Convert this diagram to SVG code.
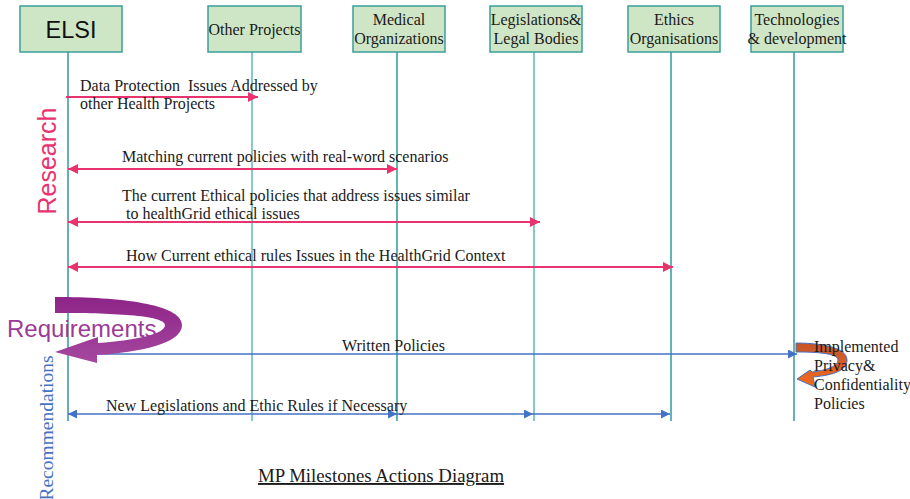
<svg xmlns="http://www.w3.org/2000/svg" width="910" height="499" viewBox="0 0 910 499">
  <style>
    .box { fill: #cfe6c6; stroke: #3a9e9a; stroke-width: 1.5; }
    .nodelabel { font-family: "Liberation Serif", "Times New Roman", serif; font-size: 16px; fill: #1a1a1a; text-anchor: middle; }
    .life { stroke-width: 1.5; fill: none; }
    .life-dark { stroke: #2e9a98; }
    .life-light { stroke: #86c9c9; stroke-width: 2; }
    .msg { font-family: "Liberation Serif", "Times New Roman", serif; font-size: 16px; fill: #1a1a1a; }
    .pink { stroke: #e8336e; stroke-width: 2; fill: none; }
    .blue { stroke: #4472c4; stroke-width: 1.5; fill: none; }
  </style>
  <defs>
    <marker id="headPink" viewBox="0 0 10 10" refX="10" refY="5" markerWidth="11" markerHeight="10" markerUnits="userSpaceOnUse" orient="auto-start-reverse">
      <path d="M0,0 L10,5 L0,10 z" fill="#e8336e"/>
    </marker>
    <marker id="headBlue" viewBox="0 0 10 10" refX="10" refY="5" markerWidth="10" markerHeight="9" markerUnits="userSpaceOnUse" orient="auto-start-reverse">
      <path d="M0,0 L10,5 L0,10 z" fill="#4472c4"/>
    </marker>
    <linearGradient id="purpleRibbon" x1="0" y1="0" x2="0" y2="1">
      <stop offset="0" stop-color="#8e2488"/>
      <stop offset="1" stop-color="#a5489f"/>
    </linearGradient>
    <linearGradient id="orangeRibbon" x1="0" y1="0" x2="0" y2="1">
      <stop offset="0" stop-color="#c4552a"/>
      <stop offset="0.45" stop-color="#d85e24"/>
      <stop offset="1" stop-color="#f26b1d"/>
    </linearGradient>
  </defs>

  <!-- lifelines -->
  <g id="lifelines">
    <line class="life life-dark" x1="68" y1="52" x2="68" y2="421" stroke="#4aa9a7"/>
    <line class="life life-light" x1="252" y1="52" x2="252" y2="421"/>
    <line class="life life-dark" x1="397" y1="52" x2="397" y2="421"/>
    <line class="life life-light" x1="534" y1="52" x2="534" y2="421"/>
    <line class="life life-dark" x1="671" y1="52" x2="671" y2="421"/>
    <line class="life life-dark" x1="794" y1="52" x2="794" y2="421"/>
  </g>

  <!-- participants -->
  <g id="node-elsi">
    <rect class="box" x="20" y="6" width="102" height="46"/>
    <text x="71" y="38" font-family="Liberation Sans, Arial, sans-serif" font-size="23.5" fill="#111" text-anchor="middle">ELSI</text>
  </g>
  <g id="node-other-projects">
    <rect class="box" x="208" y="6" width="93" height="46"/>
    <text class="nodelabel" x="254.5" y="35">Other Projects</text>
  </g>
  <g id="node-medical">
    <rect class="box" x="353" y="6" width="92" height="46"/>
    <text class="nodelabel" x="399" y="25">Medical</text>
    <text class="nodelabel" x="399" y="44">Organizations</text>
  </g>
  <g id="node-legislations">
    <rect class="box" x="490" y="6" width="92" height="46"/>
    <text class="nodelabel" x="536" y="25">Legislations&amp;</text>
    <text class="nodelabel" x="536" y="44">Legal Bodies</text>
  </g>
  <g id="node-ethics">
    <rect class="box" x="628" y="6" width="92" height="46"/>
    <text class="nodelabel" x="674" y="25">Ethics</text>
    <text class="nodelabel" x="674" y="44">Organisations</text>
  </g>
  <g id="node-technologies">
    <rect class="box" x="751" y="6" width="92" height="46"/>
    <text class="nodelabel" x="797" y="25">Technologies</text>
    <text class="nodelabel" x="797" y="44">&amp; development</text>
  </g>

  <!-- messages -->
  <g id="connectors">
    <line class="pink" x1="66" y1="97" x2="258" y2="97" marker-end="url(#headPink)"/>
    <line class="pink" x1="68" y1="169" x2="397" y2="169" marker-start="url(#headPink)" marker-end="url(#headPink)"/>
    <line class="pink" x1="68" y1="222" x2="540" y2="222" marker-start="url(#headPink)" marker-end="url(#headPink)"/>
    <line class="pink" x1="68" y1="267" x2="673" y2="267" marker-start="url(#headPink)" marker-end="url(#headPink)"/>
    <line class="blue" x1="77" y1="354" x2="797" y2="354" marker-end="url(#headBlue)"/>
    <line class="blue" x1="68" y1="414" x2="397" y2="414" marker-start="url(#headBlue)" marker-end="url(#headBlue)"/>
    <line class="blue" x1="397" y1="414" x2="533" y2="414" marker-end="url(#headBlue)"/>
    <line class="blue" x1="533" y1="414" x2="670" y2="414" marker-end="url(#headBlue)"/>
  </g>

  <!-- message labels -->
  <g id="message-labels">
    <text class="msg" x="80" y="91" xml:space="preserve">Data Protection  Issues Addressed by</text>
    <text class="msg" x="80" y="109">other Health Projects</text>
    <text class="msg" x="122" y="162">Matching current policies with real-word scenarios</text>
    <text class="msg" x="122" y="201">The current Ethical policies that address issues similar</text>
    <text class="msg" x="122" y="219" xml:space="preserve"> to healthGrid ethical issues</text>
    <text class="msg" x="126" y="261">How Current ethical rules Issues in the HealthGrid Context</text>
    <text class="msg" x="342" y="351">Written Policies</text>
    <text class="msg" x="106" y="411">New Legislations and Ethic Rules if Necessary</text>
  </g>

  <!-- phase labels -->
  <g id="phase-research">
    <text transform="translate(56 161) rotate(-90)" font-family="Liberation Sans, Arial, sans-serif" font-size="25" fill="#e8336e" text-anchor="middle">Research</text>
  </g>
  <g id="phase-requirements">
    <path d="M55 297 C120 297 182 304 182 325 C182 344 140 352 97 355 L97 363 L55 352 L98 337 L98 343 C138 340 165 334 165 325 C165 315 110 313 55 313 Z" fill="url(#purpleRibbon)"/>
    <text x="7" y="337" font-family="Liberation Sans, Arial, sans-serif" font-size="24" fill="#9b3b96">Requirements</text>
  </g>
  <g id="phase-recommendations">
    <text transform="translate(53 428) rotate(-90)" font-family="Liberation Serif, Times New Roman, serif" font-size="19.5" fill="#4472c4" text-anchor="middle">Recommendations</text>
  </g>

  <!-- implementation loop at the technologies lifeline -->
  <g id="implemented-policies">
    <path d="M796 343 C815 343 847 346 847 360 C847 370 835 375 813 377 L815 387 L797 379 L810 370 L812 372 C828 370 838 366 838 360 C838 353 815 352 796 352 Z" fill="url(#orangeRibbon)" stroke="#4472c4" stroke-width="1"/>
    <text class="msg" x="814" y="352">Implemented</text>
    <text class="msg" x="814" y="371">Privacy&amp;</text>
    <text class="msg" x="814" y="390">Confidentiality</text>
    <text class="msg" x="814" y="409">Policies</text>
  </g>

  <g id="title">
    <text x="258" y="482" font-family="Liberation Serif, Times New Roman, serif" font-size="18.8" fill="#1a1a1a" text-decoration="underline">MP Milestones Actions Diagram</text>
  </g>
</svg>
